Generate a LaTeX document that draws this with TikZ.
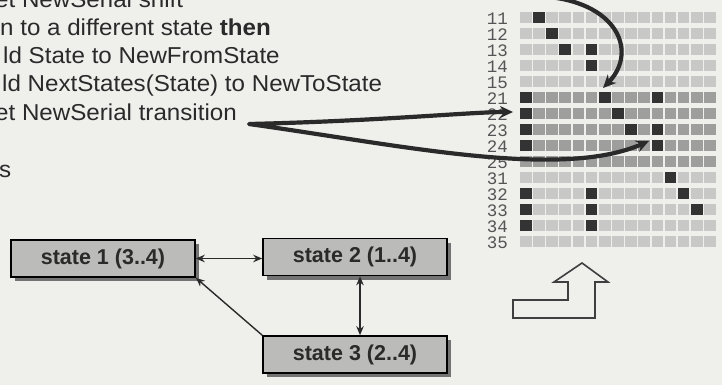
\documentclass[tikz,border=0pt]{standalone}
\usepackage{fontspec}
\usepackage{graphicx}
\setmainfont{Liberation Sans}
\newfontfamily\monofont{Liberation Mono}
\usetikzlibrary{arrows.meta,shadows,calc}
\definecolor{bg}{HTML}{EFEFEC}
\definecolor{ink}{HTML}{2A2A2A}
\definecolor{lightcell}{HTML}{C8C8C6}
\definecolor{midcell}{HTML}{9E9E9C}
\definecolor{darkcell}{HTML}{333333}
\definecolor{boxfill}{HTML}{BBBBB9}
\definecolor{numcol}{HTML}{555555}
\newcommand{\widetext}[1]{\scalebox{1.05}[1]{#1}}
\tikzset{
  codeline/.style={anchor=base west, inner sep=0pt, font=\fontsize{23}{27}\selectfont, text=ink},
  numlabel/.style={anchor=base east, inner sep=0pt, font=\monofont\fontsize{17.5}{17.5}\selectfont, text=numcol},
  bigarrow/.style={draw=ink, line width=4.2pt, line join=round},
  bighead/.tip={Stealth[length=13pt,width=12pt]},
  smallhead/.tip={Stealth[length=9pt,width=7.5pt]},
  link/.style={draw=ink, line width=1.4pt},
  statebox/.style={draw=black, line width=1.6pt, fill=boxfill, minimum width=184pt,
    minimum height=37pt, inner sep=0pt, font=\bfseries\fontsize{21.5}{24}\selectfont, text=ink,
    drop shadow={shadow xshift=4pt, shadow yshift=-4pt, fill=black!55, opacity=1}},
  blockarrow/.style={draw=ink!90, line width=1.6pt, line join=miter}
}
\begin{document}
\begin{tikzpicture}[x=1pt,y=-1pt]
\useasboundingbox (0,0) rectangle (722,385);
\fill[bg] (0,0) rectangle (722,385);
\clip (0,0) rectangle (722,385);

% left pseudo-code text (cropped at left edge)
\node[codeline] (t1) at (-5,8) {\widetext{et NewSerial shift}};
\node[codeline] (t2) at (0,36) {\widetext{n to a different state \textbf{then}}};
\node[codeline] (t3) at (3,64) {\widetext{ld State to NewFromState}};
\node[codeline] (t4) at (2,92) {\widetext{ld NextStates(State) to NewToState}};
\node[codeline] (t5) at (-5,121) {\widetext{et NewSerial transition}};
\node[codeline] (t6) at (-1,177) {\widetext{s}};

% grid
\foreach \r/\cc [count=\i from 0] in {11/lightcell,12/lightcell,13/lightcell,14/lightcell,15/lightcell,
  21/midcell,22/midcell,23/midcell,24/midcell,25/midcell,
  31/lightcell,32/lightcell,33/lightcell,34/lightcell,35/lightcell} {
  \pgfmathsetmacro\yc{17.5+16*\i}
  \node[numlabel] (lbl\r) at (508,\yc+7.3) {\r};
  \foreach \c in {0,...,14} {
    \fill[\cc] (520+13.15*\c,\yc-5.8) rectangle ++(11.6,11.6);
  }
}
\foreach \i/\c in {0/1,1/2,2/3,2/5,3/5,5/0,5/6,5/10,6/0,6/7,7/0,7/8,7/10,8/0,8/10,
  10/11,11/0,11/5,11/12,12/0,12/5,12/13,13/0,13/5} {
  \pgfmathsetmacro\yc{17.5+16*\i}
  \fill[darkcell] (520+13.15*\c,\yc-5.8) rectangle ++(11.6,11.6);
}

% thick arrows
\coordinate (j) at (249,124);
\coordinate (tipA) at (513,112);
\coordinate (tipB) at (649,141);
\draw[bigarrow, bighead-bighead] (tipA) .. controls (470,112) and (380,121) .. (j)
  .. controls (400,145) and (560,180) .. (tipB);
\coordinate (topstart) at (530,-4);
\coordinate (tipC) at (603,88);
\draw[bigarrow, -bighead] (topstart) .. controls (615,-4) and (640,50) .. (tipC);

% hollow block arrow
\draw[blockarrow] (582,263) -- (608,282) -- (595,282) -- (595,318) -- (513,318)
  -- (513,300) -- (568,300) -- (568,282) -- (554,282) -- cycle;

% state boxes
\node[statebox] (s1) at (103,258.5) {state 1 (3..4)};
\node[statebox] (s2) at (355,257) {state 2 (1..4)};
\node[statebox] (s3) at (355,354.5) {state 3 (2..4)};

\draw[link, smallhead-smallhead] (s1.east) -- (s1.east -| s2.west);
\draw[link, smallhead-smallhead] ([xshift=5pt]s2.south) -- ([xshift=5pt]s3.north);
\draw[link, -smallhead] (s3.north west) -- (s1.south east);
\end{tikzpicture}
\end{document}
